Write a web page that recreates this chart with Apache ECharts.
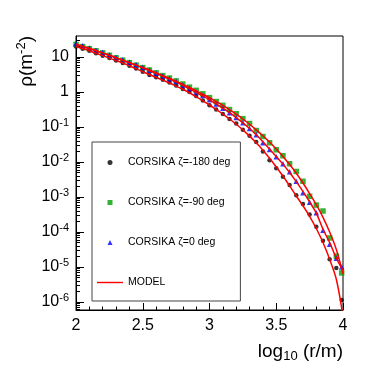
<!DOCTYPE html>
<html>
<head>
<meta charset="utf-8">
<script src="https://cdn.jsdelivr.net/npm/echarts@6/dist/echarts.min.js"></script>
<style>
    html, body { margin: 0; padding: 0; background: #fff; }
    #chart { width: 382px; height: 366px; }
</style>
</head>
<body>
<div id="chart"></div>
<script>
// log10(r/m) positions of the simulated points
const logR = [2.00, 2.05, 2.10, 2.15, 2.20, 2.25, 2.30, 2.35, 2.40, 2.45,
    2.50, 2.55, 2.60, 2.65, 2.70, 2.75, 2.80, 2.85, 2.90, 2.95,
    3.00, 3.05, 3.10, 3.15, 3.20, 3.25, 3.30, 3.35, 3.40, 3.45,
    3.50, 3.55, 3.60, 3.65, 3.70, 3.75, 3.80, 3.85, 3.90, 3.95, 3.99]

// log10(rho / m^-2)
const corsika180 = [1.30, 1.24, 1.18, 1.11, 1.04, 0.97, 0.90, 0.83, 0.75, 0.67,
    0.58, 0.49, 0.42, 0.35, 0.27, 0.19, 0.09, 0.00, -0.11, -0.24,
    -0.38, -0.50, -0.63, -0.77, -0.90, -1.08, -1.25, -1.43, -1.70, -1.95,
    -2.18, -2.42, -2.66, -2.95, -3.20, -3.50, -3.85, -4.25, -4.78, -5.03, -5.94]
const corsika90 = [1.36, 1.30, 1.24, 1.18, 1.12, 1.05, 0.98, 0.91, 0.84, 0.77,
    0.70, 0.63, 0.55, 0.47, 0.40, 0.32, 0.23, 0.14, 0.05, -0.05,
    -0.16, -0.27, -0.38, -0.50, -0.62, -0.76, -0.90, -1.10, -1.27, -1.45,
    -1.65, -1.82, -2.05, -2.27, -2.55, -2.98, -3.23, -3.40, -4.17, -4.69, -5.17]
const corsika0 = [1.38, 1.32, 1.26, 1.19, 1.13, 1.06, 0.99, 0.92, 0.85, 0.78,
    0.70, 0.62, 0.54, 0.46, 0.38, 0.30, 0.20, 0.10, 0.00, -0.10,
    -0.22, -0.34, -0.46, -0.59, -0.73, -0.88, -1.04, -1.22, -1.45, -1.64,
    -1.85, -2.05, -2.28, -2.55, -2.88, -3.15, -3.45, -3.95, -4.35, -4.75, -5.00]

// model curves, same r positions
const modelR = [2.00, 2.05, 2.10, 2.15, 2.20, 2.25, 2.30, 2.35, 2.40, 2.45,
    2.50, 2.55, 2.60, 2.65, 2.70, 2.75, 2.80, 2.85, 2.90, 2.95,
    3.00, 3.05, 3.10, 3.15, 3.20, 3.25, 3.30, 3.35, 3.40, 3.45,
    3.50, 3.55, 3.60, 3.65, 3.70, 3.75, 3.80, 3.85, 3.90, 3.95, 4.00]
const model90 = [1.36, 1.30, 1.24, 1.18, 1.12, 1.05, 0.98, 0.91, 0.84, 0.77,
    0.70, 0.63, 0.55, 0.47, 0.39, 0.31, 0.22, 0.13, 0.04, -0.06,
    -0.16, -0.27, -0.38, -0.50, -0.63, -0.77, -0.92, -1.08, -1.25, -1.43,
    -1.63, -1.84, -2.07, -2.32, -2.60, -2.90, -3.22, -3.58, -4.00, -4.50, -5.20]
const model0 = [1.37, 1.31, 1.25, 1.19, 1.12, 1.05, 0.98, 0.91, 0.84, 0.77,
    0.69, 0.61, 0.53, 0.45, 0.37, 0.29, 0.19, 0.09, -0.01, -0.11,
    -0.22, -0.34, -0.46, -0.59, -0.73, -0.88, -1.04, -1.22, -1.42, -1.63,
    -1.84, -2.06, -2.30, -2.56, -2.84, -3.14, -3.46, -3.92, -4.30, -4.75, -5.10]
const model180 = [1.30, 1.24, 1.18, 1.11, 1.04, 0.97, 0.90, 0.83, 0.75, 0.67,
    0.58, 0.50, 0.42, 0.34, 0.26, 0.17, 0.08, -0.02, -0.13, -0.25,
    -0.37, -0.50, -0.63, -0.77, -0.92, -1.08, -1.26, -1.45, -1.66, -1.89,
    -2.14, -2.40, -2.68, -2.97, -3.25, -3.55, -3.90, -4.30, -4.78, -5.35, -6.40]

const xTicks = [2, 2.5, 3, 3.5, 4]
const yTicks = [1e-6, 1e-5, 1e-4, 1e-3, 1e-2, 1e-1, 1, 10]
const yTickExp = ["-6", "-5", "-4", "-3", "-2", "-1", "0", "1"]

const yMin = 5.9e-7
const yMax = 40

function pairs(xs, ys) {
    return xs.map((x, i) => [x, Math.pow(10, ys[i])])
}

// minor ticks of the log axis: 2..9 x 10^n
const yMinor = []
for (let d = -7; d <= 1; d++) {
    for (let k = 2; k <= 9; k++) {
        const v = k * Math.pow(10, d)
        if (v > yMin && v < yMax) yMinor.push(v)
    }
}

const font = "Liberation Sans, Arial, Helvetica, sans-serif"
const chart = echarts.init(document.getElementById("chart"))

const modelStyle = {
    type: "line",
    name: "MODEL",
    showSymbol: false,
    symbol: "none",
    smooth: 0.3,
    lineStyle: { color: "#ff0000", width: 1.5 },
    itemStyle: { color: "#ff0000" },
    z: 3,
}

chart.setOption({
    animation: false,
    textStyle: { fontFamily: font },
    grid: {
        left: 76,
        right: 39,
        top: 36,
        bottom: 56,
        show: true,
        borderColor: "#000",
        borderWidth: 1,
        backgroundColor: "transparent",
    },
    legend: {
        orient: "vertical",
        left: 92,
        top: 142,
        padding: [15, 10, 13, 5],
        borderColor: "#444",
        borderWidth: 1,
        backgroundColor: "#fff",
        itemWidth: 26,
        itemHeight: 5,
        itemGap: 29,
        symbolKeepAspect: true,
        textStyle: { fontSize: 10.5, color: "#000", fontFamily: font },
        data: [
            { name: "CORSIKA ζ=-180 deg", icon: "circle" },
            { name: "CORSIKA ζ=-90 deg", icon: "path://M0,0L1,0L1,1L0,1Z" },
            { name: "CORSIKA ζ=0 deg", icon: "path://M0.5,0L1,1L0,1Z" },
            { name: "MODEL", icon: "path://M0,0L26,0L26,1.4L0,1.4Z" },
        ],
    },
    xAxis: {
        type: "value",
        min: 2,
        max: 4,
        interval: 0.5,
        axisLine: { lineStyle: { color: "#000", width: 1 } },
        axisTick: { inside: true, length: 7, lineStyle: { color: "#000" } },
        minorTick: { show: true, splitNumber: 5, length: 3.5, lineStyle: { color: "#000" } },
        splitLine: { show: false },
        axisLabel: {
            color: "#000",
            fontSize: 16,
            margin: 8,
            fontFamily: font,
            customValues: xTicks,
            formatter: (v) => String(v),
        },
        name: "{a|log}{s|10}{a| (r/m)}",
        nameLocation: "end",
        nameGap: 0,
        nameTextStyle: {
            align: "right",
            verticalAlign: "top",
            padding: [30, 0, 0, 0],
            rich: {
                a: { fontSize: 19, color: "#000", fontFamily: font },
                s: { fontSize: 13, color: "#000", fontFamily: font, padding: [10, 0, 0, 0] },
            },
        },
    },
    yAxis: [
        {
            type: "log",
            logBase: 10,
            min: yMin,
            max: yMax,
            axisLine: { lineStyle: { color: "#000", width: 1 } },
            axisTick: { inside: true, length: 8, customValues: yTicks, lineStyle: { color: "#000" } },
            splitLine: { show: false },
            axisLabel: {
                margin: 7,
                customValues: yTicks,
                formatter: function (v) {
                    const e = Math.round(Math.log10(v))
                    if (e === 0) return "{b|1}"
                    if (e === 1) return "{b|10}"
                    return "{b|10}{s|" + yTickExp[yTicks.indexOf(Math.pow(10, e))] + "}"
                },
                rich: {
                    b: { fontSize: 16, color: "#000", fontFamily: font },
                    s: { fontSize: 11, color: "#000", fontFamily: font, padding: [0, 0, 9, 0] },
                },
            },
        },
        {
            type: "log",
            logBase: 10,
            min: yMin,
            max: yMax,
            position: "left",
            axisLine: { show: false },
            axisTick: { inside: true, length: 4, customValues: yMinor, lineStyle: { color: "#000" } },
            axisLabel: { show: false },
            splitLine: { show: false },
        },
    ],
    series: [
        {
            type: "scatter",
            name: "CORSIKA ζ=-180 deg",
            symbol: "circle",
            symbolSize: 4.5,
            itemStyle: { color: "#000" },
            data: pairs(logR, corsika180),
            z: 2,
        },
        {
            type: "scatter",
            name: "CORSIKA ζ=-90 deg",
            symbol: "rect",
            symbolSize: 5.5,
            itemStyle: { color: "#00a000" },
            data: pairs(logR, corsika90),
            z: 2,
        },
        {
            type: "scatter",
            name: "CORSIKA ζ=0 deg",
            symbol: "triangle",
            symbolSize: 5.5,
            itemStyle: { color: "#0000ff" },
            data: pairs(logR, corsika0),
            z: 2,
        },
        Object.assign({}, modelStyle, { data: pairs(modelR, model90) }),
        Object.assign({}, modelStyle, { data: pairs(modelR, model0) }),
        Object.assign({}, modelStyle, { data: pairs(modelR, model180) }),
    ],
    graphic: [
        {
            type: "text",
            x: 38,
            y: 36,
            rotation: Math.PI / 2,
            style: {
                text: "{a|ρ(m}{s|-2}{a|)}",
                align: "right",
                verticalAlign: "bottom",
                rich: {
                    a: { fontSize: 19, fill: "#000", fontFamily: font },
                    s: { fontSize: 13, fill: "#000", fontFamily: font, padding: [0, 0, 10, 0] },
                },
            },
        },
    ],
})

window.addEventListener("resize", function () {
    chart.resize()
})
</script>
</body>
</html>
